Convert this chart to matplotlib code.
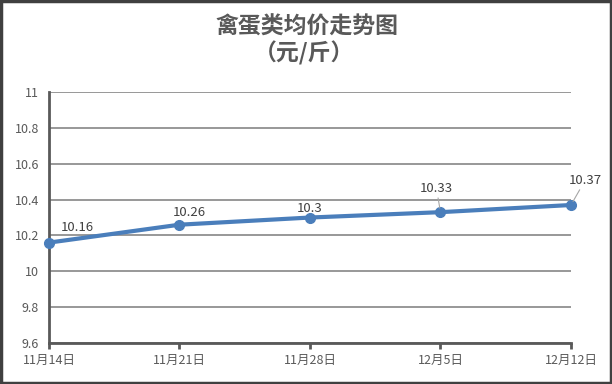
import matplotlib.pyplot as plt
from matplotlib.patches import Rectangle

plt.rcParams['font.family'] = ['Noto Sans CJK SC', 'DejaVu Sans']

# --- データ ---
dates = ["11月14日", "11月21日", "11月28日", "12月5日", "12月12日"]
prices = [10.16, 10.26, 10.3, 10.33, 10.37]
label_offsets = [(28, 9), (10, 6), (0, 3), (-4, 17), (14, 18)]  # ラベル位置 (px)

line_color = "#4a7ebb"
text_color = "#595959"

fig = plt.figure(figsize=(6.12, 3.84), dpi=100)
ax = fig.add_axes([0.080, 0.107, 0.853, 0.653])

x = list(range(len(dates)))
ax.plot(x, prices, color=line_color, linewidth=3, marker="o", markersize=7,
        solid_capstyle="round", zorder=3, clip_on=False)

# --- データラベル ---
for i, (xi, v) in enumerate(zip(x, prices)):
    dx, dy = label_offsets[i]
    leader = i >= 3
    ax.annotate(f"{v:g}", xy=(xi, v), xytext=(dx * 0.72, dy * 0.72),
                textcoords="offset points", ha="center", va="bottom",
                fontsize=9.5, color="#404040",
                arrowprops=dict(arrowstyle="-", color="#a6a6a6", lw=0.8,
                                shrinkA=0, shrinkB=3) if leader else None)

ax.set_xlim(0, len(dates) - 1)
ax.set_ylim(9.6, 11)
ax.set_yticks([9.6, 9.8, 10, 10.2, 10.4, 10.6, 10.8, 11])
ax.set_yticklabels(["9.6", "9.8", "10", "10.2", "10.4", "10.6", "10.8", "11"])
ax.set_xticks(x)
ax.set_xticklabels(dates)

ax.grid(axis="y", color="#868686", linewidth=1.2)
ax.set_axisbelow(True)
for s in ["top", "right"]:
    ax.spines[s].set_visible(False)
for s in ["left", "bottom"]:
    ax.spines[s].set_color("#595959")
    ax.spines[s].set_linewidth(2)

ax.tick_params(axis="y", length=0, pad=7, labelsize=9, labelcolor=text_color)
ax.tick_params(axis="x", length=4, width=2, color="#595959", pad=4,
               labelsize=9, labelcolor=text_color)

# --- タイトル ---
fig.text(0.502, 0.93, "禽蛋类均价走势图", ha="center", va="center",
         fontsize=16.5, fontweight="bold", color=text_color)
fig.text(0.497, 0.862, "（元/斤）", ha="center", va="center",
         fontsize=16.5, fontweight="bold", color=text_color)

# --- 外枠 ---
fig.patches.append(Rectangle((0.002, 0.003), 0.996, 0.994, transform=fig.transFigure,
                             fill=False, edgecolor="#404040", linewidth=2.5))

plt.savefig("out.png", dpi=100)
plt.close()
